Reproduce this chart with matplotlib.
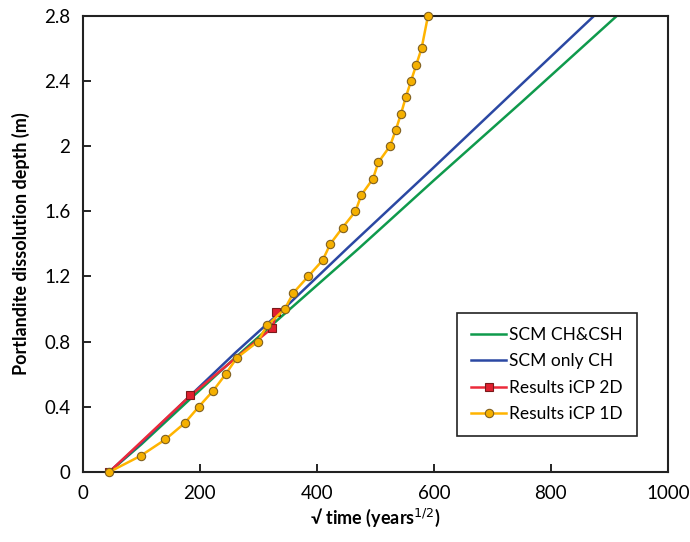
import matplotlib.pyplot as plt

plt.rcParams['font.family'] = ['Lato', 'DejaVu Sans']

# SCM CH&CSH
scm_csh_x = [45, 100, 184, 260, 335, 471, 600, 750, 913]
scm_csh_y = [0, 0.17, 0.45, 0.70, 0.94, 1.37, 1.79, 2.27, 2.8]
# SCM only CH
scm_ch_x = [45, 100, 184, 260, 340, 454, 600, 750, 874]
scm_ch_y = [0, 0.18, 0.47, 0.73, 0.99, 1.38, 1.87, 2.38, 2.8]
# Results iCP 2D
icp2d_x = [45, 184, 324, 331]
icp2d_y = [0, 0.47, 0.885, 0.98]
# Results iCP 1D
icp1d_x = [45, 99, 141, 174, 198, 223, 244, 263, 299, 315, 345, 360, 385,
           410, 423, 444, 466, 476, 496, 505, 525, 535, 544, 552, 561, 570,
           579, 590]
icp1d_y = [0, 0.1, 0.2, 0.3, 0.4, 0.5, 0.6, 0.7, 0.8, 0.9, 1.0, 1.1, 1.2,
           1.3, 1.4, 1.5, 1.6, 1.7, 1.8, 1.9, 2.0, 2.1, 2.2, 2.3, 2.4, 2.5,
           2.6, 2.8]

xticks = [0, 200, 400, 600, 800, 1000]
xtick_labels = ['0', '200', '400', '600', '800', '1000']
yticks = [0, 0.4, 0.8, 1.2, 1.6, 2.0, 2.4, 2.8]
ytick_labels = ['0', '0.4', '0.8', '1.2', '1.6', '2', '2.4', '2.8']

fig = plt.figure(figsize=(6.9, 5.42), dpi=100)
ax = fig.add_axes([0.120, 0.129, 0.848, 0.842])

ax.plot(scm_csh_x, scm_csh_y, color='#0f9a4c', lw=1.8, label='SCM CH&CSH')
ax.plot(scm_ch_x, scm_ch_y, color='#2b48a3', lw=1.8, label='SCM only CH')
ax.plot(icp2d_x, icp2d_y, color='#ec2a3a', lw=1.8, marker='s', ms=6,
        mfc='#e02030', mec='#7a1a1a', mew=0.8, label='Results iCP 2D')
ax.plot(icp1d_x, icp1d_y, color='#ffb400', lw=1.8, marker='o', ms=6,
        mfc='#f5b000', mec='#806020', mew=0.8, label='Results iCP 1D',
        clip_on=False, zorder=5)

ax.set_xlim(0, 1000)
ax.set_ylim(0, 2.8)
ax.set_xticks(xticks)
ax.set_xticklabels(xtick_labels)
ax.set_yticks(yticks)
ax.set_yticklabels(ytick_labels)
ax.tick_params(direction='in', length=6, width=1.2, labelsize=13.5, pad=9)
for s in ax.spines.values():
    s.set_linewidth(1.5)
    s.set_color('#222222')

ax.set_xlabel('√ time (years$^{1/2}$)', fontsize=13, fontweight='bold')
ax.set_ylabel('Portlandite dissolution depth (m)', fontsize=13,
              fontweight='bold', labelpad=10)

leg = ax.legend(loc='lower right', bbox_to_anchor=(0.962, 0.06),
                fontsize=12.5, fancybox=False, edgecolor='#222222',
                framealpha=1, handlelength=2.0, handletextpad=0.2,
                borderpad=0.8, labelspacing=0.6)
leg.get_frame().set_linewidth(1.2)

fig.savefig('out.png', dpi=100)
